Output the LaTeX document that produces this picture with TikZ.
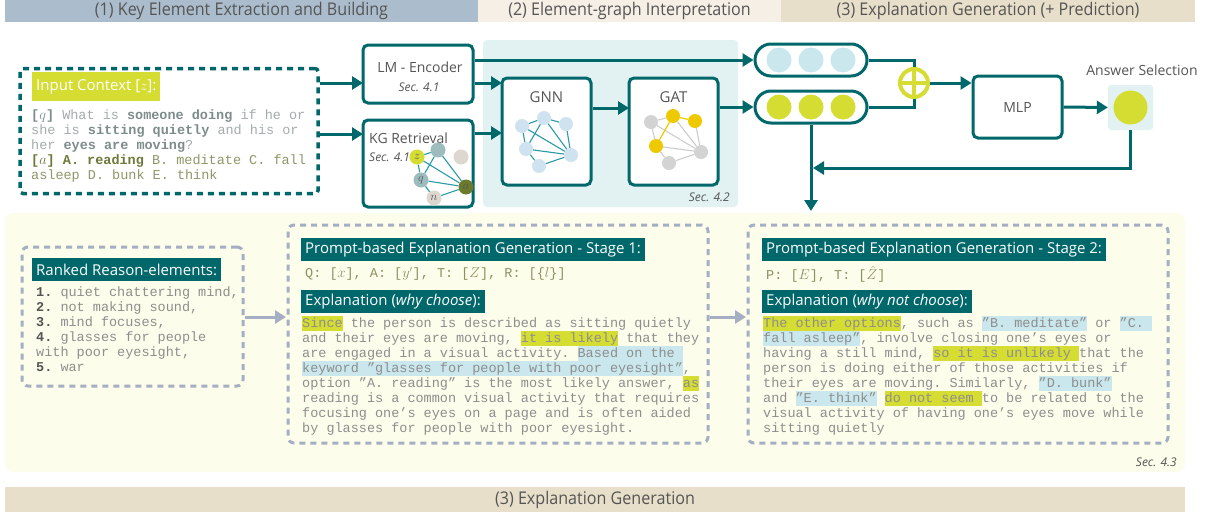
\documentclass[tikz,border=0pt]{standalone}
\usepackage{fontspec}
\setmainfont{Open Sans}
\newfontfamily\titlefont{Open Sans}
\newfontfamily\condfont[FakeStretch=0.92]{Open Sans}
\setmonofont{Liberation Mono}
\usetikzlibrary{arrows.meta}
\definecolor{cteal}{HTML}{00676B}
\definecolor{cedge}{HTML}{2A9AA6}
\definecolor{clime}{HTML}{D5DC32}
\definecolor{cbg}{HTML}{E2F2F2}
\definecolor{clblue}{HTML}{C9E7EC}
\definecolor{cpale}{HTML}{FDFDEB}
\definecolor{cdash}{HTML}{A5AEC2}
\definecolor{cbarA}{HTML}{ABBDCC}
\definecolor{cbarB}{HTML}{F6EFE6}
\definecolor{cbarC}{HTML}{E8DFCA}
\definecolor{ctxt}{HTML}{555555}
\definecolor{cgraytxt}{HTML}{8E8E8E}
\definecolor{cctxl}{HTML}{A4ACAC}
\definecolor{cctxb}{HTML}{7E8C8C}
\definecolor{colive}{HTML}{8E9868}
\definecolor{colived}{HTML}{6D7A3A}
\definecolor{cgnn}{HTML}{CFE2EF}
\definecolor{cgold}{HTML}{EEC900}
\definecolor{cgrayn}{HTML}{D3D3D3}
\definecolor{cgrayl}{HTML}{CCCCCC}
\definecolor{ckgt}{HTML}{9DBCBE}
\definecolor{ckgb}{HTML}{DDD8CF}
\definecolor{ckgo}{HTML}{6B7A2C}
\definecolor{cqline}{HTML}{8A9262}
\newcommand\mystrut{\rule[-3.8pt]{0pt}{15pt}}
\newcommand\hlY[1]{{\setlength\fboxsep{0pt}\colorbox{clime}{\mystrut#1}}}
\newcommand\hlB[1]{{\setlength\fboxsep{0pt}\colorbox{clblue}{\mystrut#1}}}
\begin{document}
\begin{tikzpicture}[x=1pt,y=-1pt,
  box/.style={draw=cteal, line width=3pt, rounded corners=5pt, fill=white, inner sep=0pt},
  arr/.style={draw=cteal, line width=3pt, -{Triangle[length=11pt,width=13pt]}},
  garr/.style={draw=cdash, line width=3pt, -{Triangle[length=11pt,width=13pt]}},
  bar/.style={inner sep=0pt, minimum height=22pt, text=ctxt, font=\condfont\fontsize{17.5}{20}\selectfont},
  ttlbox/.style={anchor=north west, fill=cteal, text=white, inner xsep=4pt, inner ysep=0pt, minimum height=23pt, font=\titlefont\fontsize{15}{18}\selectfont},
  mono/.style={anchor=north west, inner sep=0pt, align=left, font=\ttfamily\fontsize{13.5}{15}\selectfont\frenchspacing},
  lbl/.style={text=ctxt, inner sep=0pt, font=\titlefont\fontsize{14}{16}\selectfont},
  sec/.style={text=ctxt, inner sep=0pt, font=\titlefont\itshape\fontsize{12}{14}\selectfont},
  dashA/.style={draw=cteal, line width=3.5pt, dash pattern=on 6pt off 5pt, rounded corners=3pt},
  dashB/.style={draw=cdash, line width=3pt, dash pattern=on 6pt off 5pt, rounded corners=6pt},
  kgn/.style={circle, inner sep=0pt, minimum size=15pt, font=\fontsize{13}{14}\selectfont, text=ctxt},
  gn/.style={circle, inner sep=0pt, minimum size=14pt, fill=cgnn},
  kge/.style={draw=cedge, line width=1.1pt},
  gaty/.style={draw=cgold, line width=1.2pt},
  gatg/.style={draw=cgrayl, line width=1.1pt},
  dot/.style={circle, inner sep=0pt, minimum size=25pt},
]
\useasboundingbox (0,0) rectangle (1210,512);
\fill[white] (0,0) rectangle (1210,512);

% top bars
\node[bar, fill=cbarA, minimum width=473pt] (barA) at (241.5,11) {(1) Key Element Extraction and Building};
\node[bar, fill=cbarB, minimum width=303pt] (barB) at (629.5,11) {(2) Element-graph Interpretation};
\node[bar, fill=cbarC, minimum width=414pt] (barC) at (988,11) {(3) Explanation Generation (+ Prediction)};

% graph interpretation background
\node[fill=cbg, rounded corners=4pt, minimum width=255pt, minimum height=167pt, inner sep=0pt] (gbg) at (610.5,123.5) {};
\node[sec, anchor=east] (sec42) at (730,197) {Sec. 4.2};

% input context
\node[dashA, minimum width=298pt, minimum height=125pt, inner sep=0pt] (inbox) at (169,131) {};
\node[anchor=north west, fill=clime, text=white, inner xsep=4pt, inner ysep=0pt, minimum height=29pt, font=\titlefont\fontsize{15}{18}\selectfont] (ctxtitle) at (32,72) {Input Context [$z$]:};
\node[mono, text=cctxl] (ctxtext) at (31,108) {\mystrut{\color{cctxb}\textbf{[$q$]}} What is {\color{cctxb}\textbf{someone doing}} if he or\\
\mystrut she is {\color{cctxb}\textbf{sitting quietly}} and his or\\
\mystrut her {\color{cctxb}\textbf{eyes are moving}}?\\
\mystrut{\color{colived}\textbf{[$a$] A. reading}} {\color{colive}B. meditate C. fall}\\
\mystrut{\color{colive}asleep D. bunk E. think}};

% LM encoder and KG retrieval
\node[box, minimum width=110pt, minimum height=58pt] (lm) at (418,74) {};
\node[lbl] (lmtxt) at (420,67) {LM - Encoder};
\node[sec] (lmsec) at (419,87) {Sec. 4.1};
\node[box, minimum width=110pt, minimum height=87pt] (kg) at (418,163.5) {};
\node[lbl, anchor=west] (kgtxt) at (369,138) {KG Retrieval};
\node[sec, anchor=west] (kgsec) at (369,157) {Sec. 4.1};
\node[kgn, fill=ckgt] (kt) at (438,150) {};
\node[kgn, fill=ckgb] (kr) at (461,157) {};
\node[kgn, fill=clime] (kz) at (417,157) {$z$};
\node[kgn, fill=ckgt] (kq) at (421,180) {$q$};
\node[kgn, fill=ckgo] (ka) at (466,187) {$a$};
\node[kgn, fill=ckgb] (kn) at (434,198) {$n$};
\draw[kge] (kz) -- (kt);
\draw[kge] (kz) -- (ka);
\draw[kge] (kt) -- (kq);
\draw[kge] (kt) -- (ka);
\draw[kge] (kq) -- (ka);
\draw[kge] (kq) -- (kn);
\draw[kge] (kn) -- (ka);
\draw[kge] (kz) -- (kq);

% GNN
\node[box, minimum width=89pt, minimum height=107pt] (gnn) at (546.5,131.5) {};
\node[lbl, font=\titlefont\fontsize{15}{18}\selectfont] (gnntxt) at (546.5,97) {GNN};
\node[gn] (n1) at (522,126) {};
\node[gn] (n2) at (544,118) {};
\node[gn] (n3) at (566,124) {};
\node[gn] (n4) at (526,149) {};
\node[gn] (n5) at (571,155) {};
\node[gn] (n6) at (539,166) {};
\draw[kge] (n1) -- (n2);
\draw[kge] (n2) -- (n3);
\draw[kge] (n1) -- (n4);
\draw[kge] (n1) -- (n5);
\draw[kge] (n2) -- (n4);
\draw[kge] (n2) -- (n5);
\draw[kge] (n3) -- (n5);
\draw[kge] (n4) -- (n5);
\draw[kge] (n4) -- (n6);
\draw[kge] (n6) -- (n5);

% GAT
\node[box, minimum width=89pt, minimum height=107pt] (gat) at (673.5,131.5) {};
\node[lbl, font=\titlefont\fontsize{15}{18}\selectfont] (gattxt) at (673.5,97) {GAT};
\node[gn, fill=cgrayn] (g1) at (651,122) {};
\node[gn, fill=cgold] (g2) at (673,116) {};
\node[gn, fill=cgold] (g3) at (695,121) {};
\node[gn, fill=cgold] (g4) at (656,146) {};
\node[gn, fill=cgrayn] (g5) at (701,152) {};
\node[gn, fill=cgrayn] (g6) at (669,163) {};
\draw[gatg] (g1) -- (g2);
\draw[gatg] (g1) -- (g4);
\draw[gatg] (g1) -- (g5);
\draw[gatg] (g2) -- (g5);
\draw[gatg] (g3) -- (g5);
\draw[gatg] (g4) -- (g5);
\draw[gatg] (g4) -- (g6);
\draw[gatg] (g6) -- (g5);
\draw[gaty] (g2) -- (g3);
\draw[gaty] (g2) -- (g4);

% pills
\node[draw=cteal, line width=3pt, rounded corners=16pt, fill=white, minimum width=112pt, minimum height=32pt, inner sep=0pt] (pill1) at (811,60) {};
\node[dot, fill=clblue] (p1a) at (779,60) {};
\node[dot, fill=clblue] (p1b) at (811,60) {};
\node[dot, fill=clblue] (p1c) at (843,60) {};
\node[draw=cteal, line width=3pt, rounded corners=16pt, fill=white, minimum width=112pt, minimum height=32pt, inner sep=0pt] (pill2) at (811,107) {};
\node[dot, fill=clime] (p2a) at (779,107) {};
\node[dot, fill=clime] (p2b) at (811,107) {};
\node[dot, fill=clime] (p2c) at (843,107) {};

% oplus
\node[circle, draw=clime, line width=4pt, fill=white, minimum size=28pt, inner sep=0pt] (oplus) at (914,83) {};
\draw[draw=clime, line width=3.5pt] (oplus.north) -- (oplus.south);
\draw[draw=clime, line width=3.5pt] (oplus.west) -- (oplus.east);

% MLP and answer
\node[box, minimum width=89pt, minimum height=62pt] (mlp) at (1017.5,107) {};
\node[lbl] (mlptxt) at (1017.5,107) {MLP};
\node[fill=cbg, rounded corners=3pt, minimum size=45pt, inner sep=0pt] (ans) at (1130.5,107.5) {};
\node[circle, fill=clime, minimum size=34pt, inner sep=0pt] (anscirc) at (1130.5,107.5) {};
\node[lbl] (anslbl) at (1142,70) {Answer Selection};

% top connectors
\coordinate (lmin) at (363,83);
\coordinate (kgin) at (363,134);
\draw[arr] (lmin -| inbox.east) -- (lmin);
\draw[arr] (kgin -| inbox.east) -- (kgin);
\draw[arr] (lm.east |- pill1.west) -- (pill1.west);
\coordinate (gnnin1) at (502,83);
\coordinate (gnnin2) at (502,133);
\draw[arr] (gnnin1 -| lm.east) -- (gnnin1);
\draw[arr] (gnnin2 -| kg.east) -- (gnnin2);
\coordinate (gatin) at (629,108);
\draw[arr] (gatin -| gnn.east) -- (gatin);
\draw[arr] (gat.east |- pill2.west) -- (pill2.west);
\draw[draw=cteal, line width=3pt] (pill1.east) -| (oplus.north);
\draw[draw=cteal, line width=3pt] (pill2.east) -| (oplus.south);
\draw[arr] (oplus.east) -- (oplus.east -| mlp.west);
\draw[arr] (mlp.east) -- (ans.west);
\coordinate (fb) at (813,168);
\draw[arr] (ans.south) |- (fb);
\coordinate (down) at (811,211);
\draw[arr] (pill2.south) -- (down);

% lower region
\node[fill=cpale, rounded corners=8pt, minimum width=1180pt, minimum height=259pt, inner sep=0pt] (lower) at (595,342.5) {};
\node[sec, anchor=east] (sec43) at (1177,462) {Sec. 4.3};

% ranked
\node[dashB, minimum width=221pt, minimum height=139pt, inner sep=0pt] (rank) at (132.5,316.5) {};
\node[ttlbox] (ranktitle) at (32,258) {Ranked Reason-elements:};
\node[mono, text=cgraytxt] (ranktext) at (36,285) {\mystrut{\color{ctxt}\textbf{1.}} quiet chattering mind,\\
\mystrut{\color{ctxt}\textbf{2.}} not making sound,\\
\mystrut{\color{ctxt}\textbf{3.}} mind focuses,\\
\mystrut{\color{ctxt}\textbf{4.}} glasses for people\\
\mystrut with poor eyesight,\\
\mystrut{\color{ctxt}\textbf{5.}} war};

% stage 1
\node[dashB, minimum width=420pt, minimum height=218pt, inner sep=0pt] (st1) at (498,334) {};
\node[ttlbox] (st1title) at (301,238) {Prompt-based Explanation Generation - Stage 1:};
\node[mono, text=cqline] (st1q) at (305,266) {\mystrut Q: [$x$], A: [$y'$], T: [$Z$], R: [\{$l$\}]};
\node[ttlbox] (st1expl) at (301,290) {Explanation (\textit{why choose}):};
\node[mono, text=cgraytxt] (st1text) at (302,316) {\mystrut\hlY{Since} the person is described as sitting quietly\\
\mystrut and their eyes are moving, \hlY{it is likely} that they\\
\mystrut are engaged in a visual activity. \hlB{Based on the }\\
\mystrut\hlB{keyword ”glasses for people with poor eyesight”},\\
\mystrut option ”A. reading” is the most likely answer, \hlY{as}\\
\mystrut reading is a common visual activity that requires\\
\mystrut focusing one’s eyes on a page and is often aided\\
\mystrut by glasses for people with poor eyesight.};

% stage 2
\node[dashB, minimum width=420pt, minimum height=218pt, inner sep=0pt] (st2) at (958,334) {};
\node[ttlbox] (st2title) at (762,238) {Prompt-based Explanation Generation - Stage 2:};
\node[mono, text=cqline] (st2p) at (766,266) {\mystrut P: [$E$], T: [$\hat{Z}$]};
\node[ttlbox] (st2expl) at (762,290) {Explanation (\textit{why not choose}):};
\node[mono, text=cgraytxt] (st2text) at (763,316) {\mystrut\hlY{The other options}, such as \hlB{”B. meditate”} or \hlB{”C. }\\
\mystrut\hlB{fall asleep”}, involve closing one’s eyes or\\
\mystrut having a still mind, \hlY{so it is unlikely }that the\\
\mystrut person is doing either of those activities if\\
\mystrut their eyes are moving. Similarly, \hlB{”D. bunk”}\\
\mystrut and \hlB{”E. think”} \hlY{do not seem }to be related to the\\
\mystrut visual activity of having one’s eyes move while\\
\mystrut sitting quietly};

% lower connectors
\coordinate (r1) at (286,317);
\draw[garr] (r1 -| rank.east) -- (r1);
\coordinate (r2) at (746,317);
\draw[garr] (r2 -| st1.east) -- (r2);

% bottom bar
\node[bar, fill=cbarC, minimum width=1180pt, minimum height=25pt] (barD) at (595,499.5) {(3) Explanation Generation};
\end{tikzpicture}
\end{document}
